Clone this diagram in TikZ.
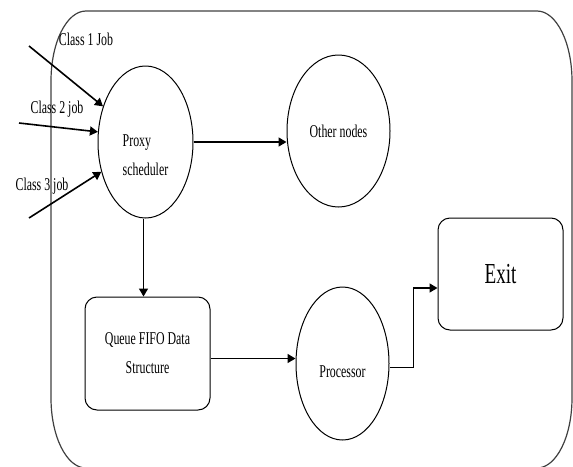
\documentclass[tikz,border=0pt]{standalone}
\usepackage{fontspec}
\setmainfont{Liberation Serif}[FakeStretch=0.66]
\usetikzlibrary{arrows.meta, shapes.geometric}

\begin{document}
\begin{tikzpicture}[x=1pt, y=-1pt,
  every node/.style={font=\fontsize{18}{29}\selectfont},
  state/.style={draw, line width=1pt, ellipse, inner sep=0pt},
  box/.style={draw, line width=1pt, rectangle, rounded corners=12pt, inner sep=0pt},
  flow/.style={line width=1.6pt, -{Triangle[length=8pt,width=9pt]}}]
\useasboundingbox (0,0) rectangle (573,466);
% outer frame
\draw[line width=1.2pt, gray!50!black] (51,81) -- (51,398)
  arc[start angle=180, end angle=270, x radius=35pt, y radius=70pt] -- (537,468)
  arc[start angle=270, end angle=360, x radius=35pt, y radius=70pt] -- (572,81)
  arc[start angle=0, end angle=90, x radius=35pt, y radius=70pt] -- (86,11)
  arc[start angle=90, end angle=180, x radius=35pt, y radius=70pt] -- cycle;
% nodes
\node[state, minimum width=95pt, minimum height=152pt, label={[yshift=-13pt, align=left]center:Proxy\\scheduler}] (proxy) at (145.5,142) {};
\node[state, minimum width=103pt, minimum height=152pt] (other) at (338.5,131) {Other nodes};
\node[box, minimum width=125pt, minimum height=113pt, align=center] (queue) at (147.5,353.5) {Queue FIFO Data\\Structure};
\node[state, minimum width=93pt, minimum height=153pt, label={[yshift=-8pt]center:Processor}] (proc) at (342.5,363.5) {};
\node[box, minimum width=125pt, minimum height=112pt, font=\fontsize{29}{35}\selectfont] (exit) at (500.5,274) {Exit};
% incoming jobs
\coordinate (in1) at (29,46);
\coordinate (in2) at (19,123);
\coordinate (in3) at (29,218);
\draw[flow] (in1) -- (proxy.140);
\draw[flow] (in2) -- (proxy.168);
\draw[flow] (in3) -- (proxy.214);
\node[anchor=base] (c1) at (86,45) {Class 1 Job};
\node[anchor=base] (c2) at (57,113) {Class 2 job};
\node[anchor=base] (c3) at (42,190) {Class 3 job};
% flow
\draw[flow] (proxy.east) -- (proxy.east -| other.west);
\draw[flow] ([xshift=-2pt]proxy.south) -- ([xshift=-2pt]proxy.south |- queue.north);
\draw[flow] ([yshift=-5pt]queue.east) -- ([yshift=-5pt]queue.east -| proc.west);
\draw[flow] ([yshift=-4pt]proc.east) -- ++(24,0) |- ([yshift=-14pt]exit.west);
\end{tikzpicture}
\end{document}
